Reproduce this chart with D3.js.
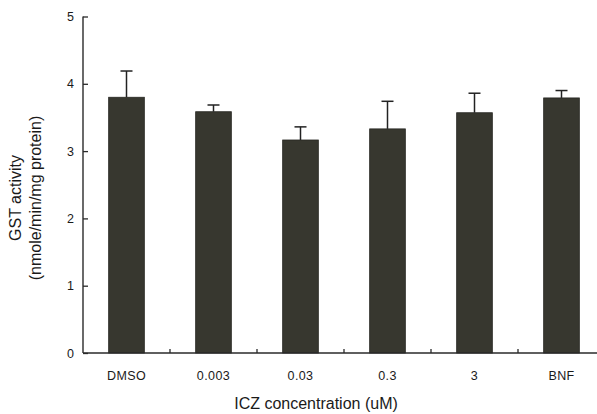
<!DOCTYPE html>
<html lang="en">
<head>
<meta charset="UTF-8">
<title>GST activity</title>
<script src="https://cdn.jsdelivr.net/npm/d3@7"></script>
<style>
  body { margin: 0; background: #ffffff; }
  text { font-family: Arial, "Liberation Sans", sans-serif; fill: #1a1a1a; }
</style>
</head>
<body>
<script>
// values
var categories = ["DMSO", "0.003", "0.03", "0.3", "3", "BNF"];
var means = [3.80, 3.585, 3.165, 3.33, 3.57, 3.79];
var errors = [0.39, 0.10, 0.195, 0.41, 0.29, 0.11];
var yTicks = [0, 1, 2, 3, 4, 5];

var w = 597, h = 414;
var plotLeft = 83, plotRight = 605, plotTop = 16.5, plotBottom = 353;

var svg = d3.select("body").append("svg")
    .attr("width", w)
    .attr("height", h);

var x = d3.scaleBand()
    .domain(categories)
    .range([plotLeft, plotRight]);

var y = d3.scaleLinear()
    .domain([0, 5])
    .range([plotBottom, plotTop]);

var data = categories.map(function(c, i) {
    return { cat: c, mean: means[i], err: errors[i] };
});

var barW = x.bandwidth() * 0.41;

// bars
svg.selectAll("rect.bar")
    .data(data)
    .enter()
    .append("rect")
    .attr("class", "bar")
    .attr("x", function(d) { return x(d.cat) + (x.bandwidth() - barW) / 2 })
    .attr("y", function(d) { return y(d.mean) })
    .attr("width", barW)
    .attr("height", function(d) { return y(0) - y(d.mean) })
    .attr("fill", "#37372f")
    .attr("stroke", "#262621")
    .attr("stroke-width", 0.8);

// error bars (upper only)
var cx = function(d) { return x(d.cat) + x.bandwidth() / 2 };
svg.selectAll("line.err")
    .data(data)
    .enter()
    .append("line")
    .attr("class", "err")
    .attr("x1", cx).attr("x2", cx)
    .attr("y1", function(d) { return y(d.mean) })
    .attr("y2", function(d) { return y(d.mean + d.err) })
    .attr("stroke", "#222")
    .attr("stroke-width", 1.5);

svg.selectAll("line.cap")
    .data(data)
    .enter()
    .append("line")
    .attr("class", "cap")
    .attr("x1", function(d) { return cx(d) - 6 })
    .attr("x2", function(d) { return cx(d) + 6 })
    .attr("y1", function(d) { return y(d.mean + d.err) })
    .attr("y2", function(d) { return y(d.mean + d.err) })
    .attr("stroke", "#222")
    .attr("stroke-width", 1.5);

// y axis, ticks pointing inward
var yAxis = svg.append("g")
    .attr("transform", "translate(" + plotLeft + ",0)")
    .call(d3.axisRight(y).tickValues(yTicks).tickSize(5).tickFormat(""));
yAxis.select(".domain").attr("d", "M0," + y(0) + "V" + y(5)).attr("stroke", "#2a2a2a").attr("stroke-width", 1.4);
yAxis.selectAll(".tick line").attr("stroke", "#2a2a2a").attr("stroke-width", 1.3);

svg.selectAll("text.ylab")
    .data(yTicks)
    .enter()
    .append("text")
    .attr("class", "ylab")
    .attr("x", plotLeft - 9)
    .attr("y", function(d) { return y(d) + 4.5 })
    .attr("text-anchor", "end")
    .style("font-size", "12.5px")
    .text(function(d) { return d });

// x axis
var xAxis = svg.append("g")
    .attr("transform", "translate(0," + plotBottom + ")")
    .call(d3.axisBottom(x).tickSize(0).tickPadding(18));
xAxis.select(".domain").attr("d", "M" + plotLeft + ",0H" + w).attr("stroke", "#2a2a2a").attr("stroke-width", 1.4);
xAxis.selectAll(".tick text")
    .style("font-size", "12.5px")
    .style("letter-spacing", "0.4px")
    .style("font-family", "Arial, 'Liberation Sans', sans-serif")
    .attr("fill", "#1a1a1a");

// separators between categories, pointing upward
svg.selectAll("line.xsep")
    .data(categories.slice(1))
    .enter()
    .append("line")
    .attr("class", "xsep")
    .attr("x1", function(d) { return x(d) })
    .attr("x2", function(d) { return x(d) })
    .attr("y1", plotBottom)
    .attr("y2", plotBottom - 4)
    .attr("stroke", "#2a2a2a")
    .attr("stroke-width", 1.3);

// axis titles
svg.append("text")
    .attr("x", 316)
    .attr("y", 409)
    .attr("text-anchor", "middle")
    .style("font-size", "16px")
    .text("ICZ concentration (uM)");

var yTitle = svg.append("text")
    .attr("transform", "translate(21,198) rotate(-90)")
    .attr("text-anchor", "middle")
    .style("font-size", "16px");
yTitle.append("tspan").attr("x", 0).attr("y", 0).text("GST activity");
yTitle.append("tspan").attr("x", 0).attr("y", 20).text("(nmole/min/mg protein)");
</script>
</body>
</html>
